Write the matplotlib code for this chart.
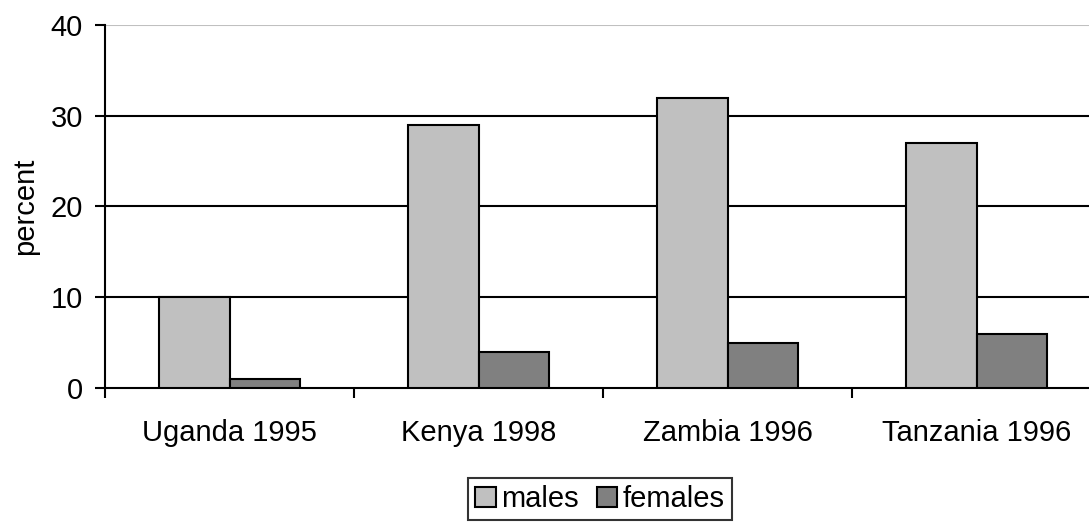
import numpy as np
import matplotlib.pyplot as plt

plt.rcParams['font.family'] = ['Liberation Sans', 'DejaVu Sans']

countries = ["Uganda 1995", "Kenya 1998", "Zambia 1996", "Tanzania 1996"]
males = [10, 29, 32, 27]
females = [1, 4, 5, 6]

fig = plt.figure(figsize=(10.89, 5.23), dpi=100)
ax = fig.add_axes([105 / 1089, 1 - 388 / 523, 996 / 1089, 363 / 523])

x = np.arange(len(countries))
w = 0.285
ax.bar(x - w / 2, males, w, color='#c0c0c0', edgecolor='black', linewidth=1.5, label='males', zorder=3)
ax.bar(x + w / 2, females, w, color='#808080', edgecolor='black', linewidth=1.5, label='females', zorder=3)

ax.set_xlim(-0.5, 3.5)
ax.set_ylim(0, 40)
ax.set_yticks([0, 10, 20, 30, 40])
for v in [10, 20, 30]:
    ax.axhline(v, color='black', linewidth=1.5, zorder=1)
ax.axhline(40, color='#c0c0c0', linewidth=1.5, zorder=1)

ax.set_xticks(x)
ax.set_xticklabels(countries, fontsize=21)
ax.set_xticks([-0.5, 0.5, 1.5, 2.5, 3.5], minor=True)
ax.tick_params(axis='x', which='major', length=0, pad=22)
ax.tick_params(axis='x', which='minor', length=7, width=1.5, direction='out')
ax.tick_params(axis='y', length=7, width=1.5, labelsize=21, pad=9)

for s in ['top', 'right']:
    ax.spines[s].set_visible(False)
ax.spines['left'].set_linewidth(1.5)
ax.spines['bottom'].set_linewidth(1.5)

ax.set_ylabel('percent', fontsize=21, labelpad=8)

leg = fig.legend(loc='center', bbox_to_anchor=(600 / 1089, 1 - 499 / 523), ncol=2, fontsize=21,
                 frameon=True, fancybox=False, edgecolor='black', handlelength=0.7, handleheight=0.7,
                 handletextpad=0.2, columnspacing=0.6, borderpad=0.25, borderaxespad=0)
leg.get_frame().set_linewidth(1.5)

fig.savefig('out.png', dpi=100)
